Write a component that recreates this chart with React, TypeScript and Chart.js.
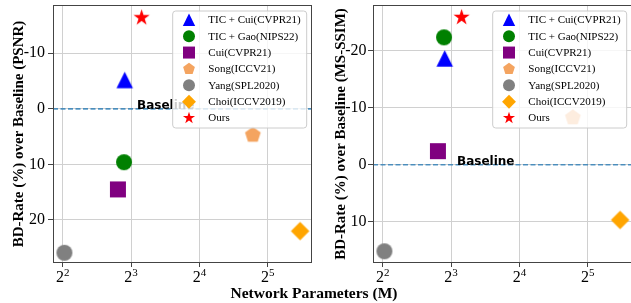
import React, { useEffect, useRef } from 'react';
import { Chart, registerables } from 'chart.js';

Chart.register(...registerables);

// ---------------- data ----------------
const methods = [
  'TIC + Cui(CVPR21)',
  'TIC + Gao(NIPS22)',
  'Cui(CVPR21)',
  'Song(ICCV21)',
  'Yang(SPL2020)',
  'Choi(ICCV2019)',
  'Ours',
];
const markerShapes = ['triangle', 'circle', 'square', 'pentagon', 'circle', 'diamond', 'star'];
const markerColors = ['#0000ff', '#008000', '#800080', '#f4a460', '#808080', '#ffa500', '#ff0000'];
const networkParams = [7.5, 7.45, 7.0, 27.5, 4.07, 44.4, 8.9];
const psnrBdRate = [-5.2, 9.6, 14.5, 4.7, 25.9, 22.0, -16.4];
const msssimBdRate = [-18.7, -22.4, -2.4, -8.3, 15.2, 9.7, -25.9];
const xTickExponents = [2, 3, 4, 5];
const psnrTicks = [-10, 0, 10, 20];
const msssimTicks = [-20, -10, 0, 10];
const baselineValue = 0;
const baselineLabelX = 8.5;
const baselineLabel = 'Baseline';
const xRange = [3.625, 50.1];
const psnrRange = [-18.69, 27.74];
const msssimRange = [-28.08, 17.26];
const psnrTitle = 'BD-Rate (%) over Baseline (PSNR)';
const msssimTitle = 'BD-Rate (%) over Baseline (MS-SSIM)';
const xTitle = 'Network Parameters (M)';

// ---------------- styling ----------------
const shapeSize: Record<string, number> = {
  circle: 16,
  triangle: 16.5,
  square: 16,
  pentagon: 16.5,
  diamond: 18.5,
  star: 17,
};
const LEGEND_SCALE = 0.75;
const SERIF = '"Liberation Serif", "Times New Roman", serif';

function drawMarker(ctx: CanvasRenderingContext2D, shape: string, x: number, y: number, s: number, color: string) {
  const r = s / 2;
  ctx.save();
  ctx.fillStyle = color;
  ctx.beginPath();
  if (shape === 'circle') {
    ctx.arc(x, y, r, 0, Math.PI * 2);
  } else if (shape === 'square') {
    ctx.rect(x - r, y - r, s, s);
  } else if (shape === 'triangle') {
    ctx.moveTo(x, y - r);
    ctx.lineTo(x + r, y + r);
    ctx.lineTo(x - r, y + r);
    ctx.closePath();
  } else if (shape === 'diamond') {
    ctx.moveTo(x, y - r);
    ctx.lineTo(x + r, y);
    ctx.lineTo(x, y + r);
    ctx.lineTo(x - r, y);
    ctx.closePath();
  } else if (shape === 'pentagon') {
    for (let k = 0; k < 5; k++) {
      const a = -Math.PI / 2 + (k * 2 * Math.PI) / 5;
      const px = x + r * Math.cos(a);
      const py = y + r * Math.sin(a);
      if (k === 0) ctx.moveTo(px, py);
      else ctx.lineTo(px, py);
    }
    ctx.closePath();
  } else if (shape === 'star') {
    for (let k = 0; k < 10; k++) {
      const rr = k % 2 ? r * 0.382 : r;
      const a = -Math.PI / 2 + (k * Math.PI) / 5;
      const px = x + rr * Math.cos(a);
      const py = y + rr * Math.sin(a);
      if (k === 0) ctx.moveTo(px, py);
      else ctx.lineTo(px, py);
    }
    ctx.closePath();
  }
  ctx.fill();
  ctx.restore();
}

function makeSprite(shape: string, color: string, s: number) {
  const dim = Math.ceil(s) + 4;
  const c = document.createElement('canvas');
  c.width = dim;
  c.height = dim;
  const ctx = c.getContext('2d')!;
  drawMarker(ctx, shape, dim / 2, dim / 2, s, color);
  return c;
}

const framePlugin = {
  id: 'frame',
  afterDraw(chart: any) {
    const { ctx, chartArea } = chart;
    const l = Math.round(chartArea.left) + 0.5;
    const t = Math.round(chartArea.top) + 0.5;
    const r = Math.round(chartArea.right) - 0.5;
    const b = Math.round(chartArea.bottom) - 0.5;
    ctx.save();
    ctx.strokeStyle = '#444';
    ctx.lineWidth = 1;
    ctx.strokeRect(l, t, r - l, b - t);
    ctx.restore();
  },
};

const xTickPlugin = {
  id: 'xPowTicks',
  afterDraw(chart: any) {
    const { ctx, chartArea } = chart;
    const xs = chart.scales.x;
    ctx.save();
    ctx.fillStyle = '#000';
    ctx.textBaseline = 'alphabetic';
    ctx.textAlign = 'left';
    xTickExponents.forEach((e) => {
      const px = xs.getPixelForValue(Math.pow(2, e));
      const baseFont = `16px ${SERIF}`;
      const supFont = `11px ${SERIF}`;
      ctx.font = baseFont;
      const w1 = ctx.measureText('2').width;
      ctx.font = supFont;
      const w2 = ctx.measureText(String(e)).width;
      const x0 = px - (w1 + w2) / 2;
      ctx.font = baseFont;
      ctx.fillText('2', x0, chartArea.bottom + 19);
      ctx.font = supFont;
      ctx.fillText(String(e), x0 + w1, chartArea.bottom + 12.5);
    });
    ctx.restore();
  },
};

const baselinePlugin = {
  id: 'baselineLine',
  beforeDatasetsDraw(chart: any) {
    const { ctx, chartArea } = chart;
    const ys = chart.scales.y;
    const xs = chart.scales.x;
    const py = ys.getPixelForValue(baselineValue);
    ctx.save();
    ctx.strokeStyle = 'rgba(31,119,180,0.75)';
    ctx.lineWidth = 1.6;
    ctx.setLineDash([5, 2.5]);
    ctx.beginPath();
    ctx.moveTo(chartArea.left, py);
    ctx.lineTo(chartArea.right, py);
    ctx.stroke();
    ctx.setLineDash([]);
    ctx.fillStyle = '#000';
    ctx.font = 'bold 12px "DejaVu Sans", sans-serif';
    ctx.textBaseline = 'alphabetic';
    ctx.textAlign = 'left';
    ctx.fillText(baselineLabel, xs.getPixelForValue(baselineLabelX), py);
    ctx.restore();
  },
};

const legendPlugin = {
  id: 'boxLegend',
  afterDraw(chart: any) {
    const { ctx, chartArea } = chart;
    const w = 134;
    const h = 117;
    const x0 = chartArea.right - 5.3 - w;
    const y0 = chartArea.top + 6;
    ctx.save();
    ctx.beginPath();
    const rad = 3;
    ctx.moveTo(x0 + rad, y0);
    ctx.lineTo(x0 + w - rad, y0);
    ctx.arcTo(x0 + w, y0, x0 + w, y0 + rad, rad);
    ctx.lineTo(x0 + w, y0 + h - rad);
    ctx.arcTo(x0 + w, y0 + h, x0 + w - rad, y0 + h, rad);
    ctx.lineTo(x0 + rad, y0 + h);
    ctx.arcTo(x0, y0 + h, x0, y0 + h - rad, rad);
    ctx.lineTo(x0, y0 + rad);
    ctx.arcTo(x0, y0, x0 + rad, y0, rad);
    ctx.closePath();
    ctx.fillStyle = 'rgba(255,255,255,0.8)';
    ctx.fill();
    ctx.strokeStyle = '#cccccc';
    ctx.lineWidth = 1;
    ctx.stroke();
    methods.forEach((m, i) => {
      const cy = y0 + 8.8 + i * 16.38;
      const shape = markerShapes[i];
      drawMarker(ctx, shape, x0 + 16.3, cy, shapeSize[shape] * LEGEND_SCALE, markerColors[i]);
      ctx.fillStyle = '#000';
      ctx.font = `11px ${SERIF}`;
      ctx.textBaseline = 'middle';
      ctx.textAlign = 'left';
      ctx.fillText(m, x0 + 35.6, cy + 0.5);
    });
    ctx.restore();
  },
};

function buildConfig(
  values: number[],
  yRange: number[],
  yTicks: number[],
  yTitle: string,
  titlePad: number,
  tickPad: number
): any {
  const sprites = markerShapes.map((s, i) => makeSprite(s, markerColors[i], shapeSize[s]));
  return {
    type: 'scatter',
    data: {
      datasets: methods.map((m, i) => ({
        label: m,
        data: [{ x: networkParams[i], y: values[i] }],
        pointStyle: sprites[i],
        pointRadius: 1,
        pointHoverRadius: 1,
        pointBorderWidth: 0,
        pointHitRadius: 0,
        clip: false,
      })),
    },
    options: {
      responsive: false,
      animation: false,
      devicePixelRatio: 1,
      events: [],
      layout: { padding: { left: 0, right: 8, top: 5, bottom: 0 } },
      plugins: {
        legend: { display: false },
        tooltip: { enabled: false },
        title: { display: false },
      },
      scales: {
        x: {
          type: 'logarithmic',
          min: xRange[0],
          max: xRange[1],
          afterBuildTicks: (s: any) => {
            s.ticks = xTickExponents.map((e) => ({ value: Math.pow(2, e) }));
          },
          afterFit: (s: any) => {
            s.height = 40;
            s.paddingLeft = 0;
            s.paddingRight = 0;
          },
          ticks: { callback: () => '', autoSkip: false, maxRotation: 0, padding: 0 },
          grid: { color: '#d0d0d0', lineWidth: 1, tickColor: '#444', tickLength: 4, drawTicks: true },
          border: { display: false },
        },
        y: {
          type: 'linear',
          reverse: true,
          min: yRange[0],
          max: yRange[1],
          afterBuildTicks: (s: any) => {
            s.ticks = yTicks.map((v) => ({ value: v }));
          },
          afterFit: (s: any) => {
            s.width = 53;
            s.paddingTop = 0;
            s.paddingBottom = 0;
          },
          ticks: {
            callback: (v: any) => String(v),
            autoSkip: false,
            color: '#000',
            padding: tickPad,
            font: { family: SERIF, size: 16 },
          },
          grid: { color: '#d0d0d0', lineWidth: 1, tickColor: '#444', tickLength: 5, drawTicks: true },
          border: { display: false },
          title: {
            display: true,
            text: yTitle,
            color: '#000',
            font: { family: SERIF, size: 15, weight: 'bold' },
            padding: { top: titlePad, bottom: 0 },
          },
        },
      },
    },
    plugins: [baselinePlugin, framePlugin, xTickPlugin, legendPlugin],
  };
}

export default function App() {
  const leftRef = useRef<HTMLCanvasElement | null>(null);
  const rightRef = useRef<HTMLCanvasElement | null>(null);

  useEffect(() => {
    const c1 = new Chart(leftRef.current!, buildConfig(psnrBdRate, psnrRange, psnrTicks, psnrTitle, 9.8, 3));
    const c2 = new Chart(rightRef.current!, buildConfig(msssimBdRate, msssimRange, msssimTicks, msssimTitle, 12, 1.5));
    return () => {
      c1.destroy();
      c2.destroy();
    };
  }, []);

  return (
    <div
      style={{
        position: 'absolute',
        left: 0,
        top: 0,
        width: 631,
        height: 303,
        overflow: 'hidden',
        background: '#fff',
      }}
    >
      <canvas
        ref={leftRef}
        width={320}
        height={303}
        style={{ position: 'absolute', left: 0, top: 0, width: 320, height: 303 }}
      />
      <canvas
        ref={rightRef}
        width={320}
        height={303}
        style={{ position: 'absolute', left: 320, top: 0, width: 320, height: 303 }}
      />
      <div
        style={{
          position: 'absolute',
          left: 0,
          top: 284,
          width: 628,
          textAlign: 'center',
          fontFamily: SERIF,
          fontWeight: 'bold',
          fontSize: '15.5px',
          lineHeight: '18px',
          color: '#000',
          whiteSpace: 'nowrap',
        }}
      >
        {xTitle}
      </div>
    </div>
  );
}
